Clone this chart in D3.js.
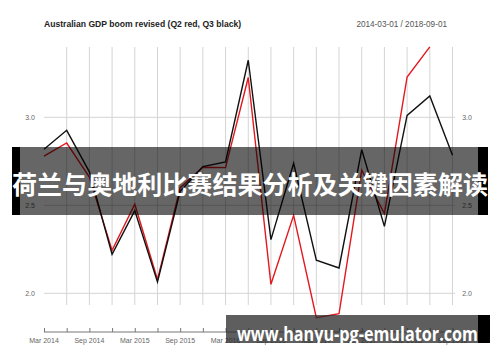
<!DOCTYPE html>
<html>
<head>
<meta charset="utf-8">
<script src="https://cdn.jsdelivr.net/npm/d3@7"></script>
<style>
  body { margin: 0; background: #fff; }
  svg { display: block; font-family: "Liberation Sans", Arial, sans-serif; }
</style>
</head>
<body>
<div id="chart"></div>
<script>
// quarterly dates, Q3 release (black) and Q2 release (red)
const quarters = [
  "2014-03-01", "2014-06-01", "2014-09-01", "2014-12-01",
  "2015-03-01", "2015-06-01", "2015-09-01", "2015-12-01",
  "2016-03-01", "2016-06-01", "2016-09-01", "2016-12-01",
  "2017-03-01", "2017-06-01", "2017-09-01", "2017-12-01",
  "2018-03-01", "2018-06-01", "2018-09-01"
];
const q3Values = [2.818, 2.926, 2.69, 2.222, 2.47, 2.064, 2.58, 2.72, 2.746, 3.324,
  2.305, 2.739, 2.188, 2.144, 2.816, 2.38, 3.011, 3.121, 2.784];
const q2Values = [2.78, 2.854, 2.66, 2.244, 2.506, 2.078, 2.6, 2.716, 2.714, 3.226,
  2.051, 2.443, 1.862, 1.884, 2.70, 2.453, 3.229, 3.40, null];
const yTicks = [2.0, 2.5, 3.0];
const labelQuarters = quarters.filter((d, i) => i % 2 === 0);

const width = 500, height = 362;
const svg = d3.select("#chart").append("svg")
  .attr("width", width).attr("height", height);

const x = d3.scalePoint().domain(quarters).range([44, 452.5]);
const y = d3.scaleLinear().domain([2.0, 3.0]).range([293.3, 117.3]);
const fmtLabel = d3.timeFormat("%b %Y");
const parse = d3.timeParse("%Y-%m-%d");

// title
svg.append("text")
  .attr("x", 44).attr("y", 27)
  .attr("font-size", 8.6).attr("font-weight", "bold").attr("fill", "#222")
  .text("Australian GDP boom revised (Q2 red, Q3 black)");
svg.append("text")
  .attr("x", 447).attr("y", 27).attr("text-anchor", "end")
  .attr("font-size", 8.2).attr("fill", "#555")
  .text("2014-03-01 / 2018-09-01");

// grid
const grid = svg.append("g");
grid.selectAll(".vg").data(quarters.slice(1)).join("line")
  .attr("x1", d => x(d)).attr("x2", d => x(d))
  .attr("y1", 47).attr("y2", 305)
  .attr("stroke", "#d4d4d4").attr("stroke-width", 1);
grid.selectAll(".hg").data(yTicks).join("line")
  .attr("x1", 44).attr("x2", 455)
  .attr("y1", d => y(d)).attr("y2", d => y(d))
  .attr("stroke", "#d4d4d4").attr("stroke-width", 1);

// y labels both sides
svg.selectAll(".yl").data(yTicks).join("text")
  .attr("x", 30).attr("y", d => y(d) + 2.5).attr("text-anchor", "middle")
  .attr("font-size", 7).attr("fill", "#666")
  .text(d => d.toFixed(1));
svg.selectAll(".yr").data(yTicks).join("text")
  .attr("x", 467).attr("y", d => y(d) + 2.5).attr("text-anchor", "middle")
  .attr("font-size", 7).attr("fill", "#666")
  .text(d => d.toFixed(1));

// x axis
const xAxis = d3.axisTop(x).tickSize(4).tickFormat("");
const axisG = svg.append("g").attr("transform", "translate(0,332)").call(xAxis);
axisG.select(".domain").attr("stroke", "#777").attr("d", "M44,0H452.5");
axisG.selectAll(".tick line").attr("stroke", "#777");
svg.selectAll(".xl").data(labelQuarters).join("text")
  .attr("x", d => x(d)).attr("y", 343).attr("text-anchor", "middle")
  .attr("font-size", 7).attr("fill", "#666")
  .text(d => fmtLabel(parse(d)));

// series
const line = d3.line()
  .defined(d => d.v !== null)
  .x(d => x(d.q)).y(d => y(d.v));
svg.append("path")
  .datum(quarters.map((q, i) => ({ q, v: q2Values[i] })))
  .attr("d", line).attr("fill", "none")
  .attr("stroke", "#e3191f").attr("stroke-width", 1.4);
svg.append("path")
  .datum(quarters.map((q, i) => ({ q, v: q3Values[i] })))
  .attr("d", line).attr("fill", "none")
  .attr("stroke", "#111").attr("stroke-width", 1.4);

// overlay banners
svg.append("rect").attr("x", 12).attr("y", 147).attr("width", 476).attr("height", 68)
  .attr("fill", "rgba(0,0,0,0.6)");
svg.append("rect").attr("x", 12).attr("y", 147).attr("width", 8).attr("height", 68)
  .attr("fill", "#000");
svg.append("rect").attr("x", 478).attr("y", 147).attr("width", 10).attr("height", 68)
  .attr("fill", "#000");
svg.append("text")
  .attr("x", 12).attr("y", 194)
  .attr("font-family", "'Noto Sans CJK SC', sans-serif")
  .attr("font-size", 25).attr("font-weight", "bold").attr("fill", "#fff")
  .attr("textLength", 476).attr("lengthAdjust", "spacingAndGlyphs")
  .text("荷兰与奥地利比赛结果分析及关键因素解读");

svg.append("rect").attr("x", 226).attr("y", 315).attr("width", 252).attr("height", 28)
  .attr("fill", "rgba(40,40,40,0.75)");
svg.append("rect").attr("x", 478).attr("y", 315).attr("width", 12).attr("height", 28)
  .attr("fill", "#000");
svg.append("text")
  .attr("x", 237).attr("y", 341)
  .attr("font-family", "'Open Sans', 'DejaVu Sans', sans-serif")
  .attr("font-size", 19).attr("font-weight", "bold").attr("fill", "#fff")
  .attr("textLength", 241).attr("lengthAdjust", "spacingAndGlyphs")
  .text("www.hanyu-pg-emulator.com");
</script>
</body>
</html>
